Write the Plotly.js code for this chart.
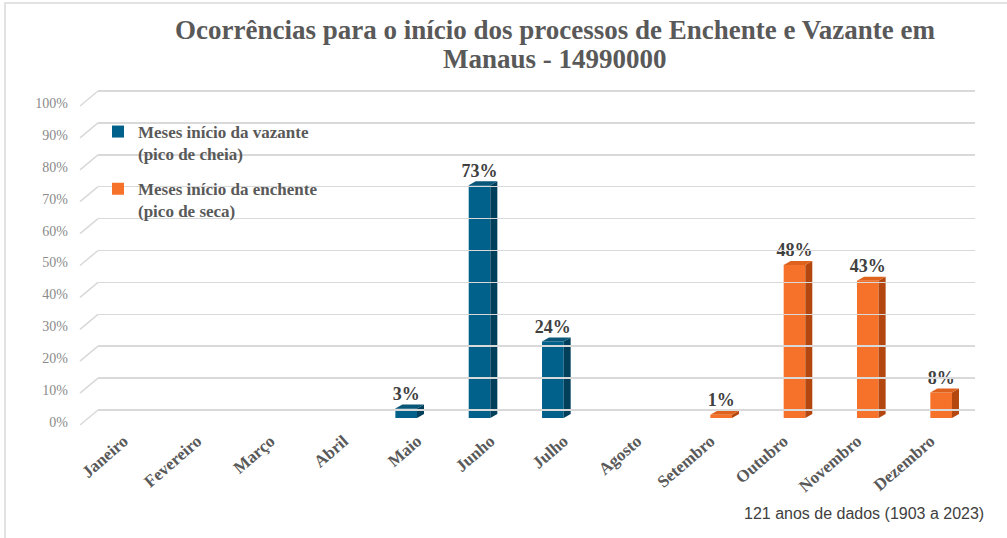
<!DOCTYPE html>
<html><head><meta charset="utf-8">
<script src="https://cdn.plot.ly/plotly-3.0.1.min.js"></script>
<style>html,body{margin:0;padding:0;background:#fff}#chart{width:1007px;height:538px}</style>
</head><body><div id="chart"></div>
<script>
// ---- data ----
const months = ['Janeiro','Fevereiro','Março','Abril','Maio','Junho','Julho','Agosto','Setembro','Outubro','Novembro','Dezembro'];
const vazante = [null,null,null,null,3,73,24,null,null,null,null,null];
const enchente = [null,null,null,null,null,null,null,null,1,48,43,8];
const yTicks = [0,10,20,30,40,50,60,70,80,90,100];
const seriesNames = ['Meses início da vazante<br>(pico de cheia)','Meses início da enchente<br>(pico de seca)'];
const titleLines = ['Ocorrências para o início dos processos de Enchente e Vazante em','Manaus - 14990000'];
const noteText = '121 anos de dados (1903 a 2023)';

// ---- geometry (pixels) ----
const W = 1007, H = 538;
const barL = 87, barR = 967, barBottom = 418, pxPerPct = 3.19;
const barTop = barBottom - 100 * pxPerPct;
const gridL = 98, gridR = 975, gridBottom = 410;
const labelShift = 4;
const depthX = 7, depthY = 4;
const w = 0.295;
const pxPerCat = (barR - barL) / 12;
const dxd = depthX / pxPerCat, dyd = depthY / pxPerPct;
const fx = p => p / W, fy = p => 1 - p / H;

const colors = {
  blue: {front:'#02618A', side:'#013F5A', top:'#0A5679'},
  orange: {front:'#F6722A', side:'#B3470F', top:'#DE621E'}
};
const idx = months.map((m,i)=>i);

function faces(vals, left) {
  const side = {x:[], y:[]}, top = {x:[], y:[]};
  vals.forEach((v,i)=>{
    if (v === null) return;
    const xl = left ? i - w : i, xr = left ? i : i + w;
    side.x.push(xr, xr, xr+dxd, xr+dxd, xr, null);
    side.y.push(0, v, v+dyd, dyd, 0, null);
    top.x.push(xl, xr, xr+dxd, xl+dxd, xl, null);
    top.y.push(v, v, v+dyd, v+dyd, v, null);
  });
  return {side, top};
}

const traces = [];
function addSeries(vals, left, c, name, group) {
  traces.push({type:'bar', x: idx, y: vals, width: w, offset: left ? -w : 0,
    marker:{color:c.front, line:{width:0}}, name: name, legendgroup: group, hoverinfo:'skip'});
  const f = faces(vals, left);
  traces.push({type:'scatter', mode:'lines', x:f.side.x, y:f.side.y, fill:'toself', fillcolor:c.side,
    line:{width:0, color:c.side}, showlegend:false, hoverinfo:'skip'});
  traces.push({type:'scatter', mode:'lines', x:f.top.x, y:f.top.y, fill:'toself', fillcolor:c.top,
    line:{width:0, color:c.top}, showlegend:false, hoverinfo:'skip'});
  const tx = [], ty = [], tt = [];
  vals.forEach((v,i)=>{ if (v!==null){ tx.push(left ? i - w/2 : i + w/2); ty.push(v + dyd); tt.push(v + '%'); }});
  traces.push({type:'scatter', mode:'text', x:tx, y:ty, text:tt, textposition:'top center',
    textfont:{family:'Liberation Serif', size:18, color:'#404040', weight:'bold'},
    showlegend:false, hoverinfo:'skip', cliponaxis:false});
}
addSeries(vazante, true, colors.blue, seriesNames[0], 'g1');
addSeries(enchente, false, colors.orange, seriesNames[1], 'g2');
traces.push({type:'scatter', x:[], y:[], xaxis:'x2', yaxis:'y2', showlegend:false, hoverinfo:'skip'});
traces.push({type:'scatter', x:[], y:[], xaxis:'x', yaxis:'y3', showlegend:false, hoverinfo:'skip'});

// grid axis: range padded so end gridlines are kept
const gMin = -1, gMax = 101;
const shapes = [];
shapes.push({type:'rect', xref:'paper', yref:'paper', x0:fx(5), x1:fx(W+10), y0:fy(3), y1:fy(H+10),
  line:{color:'#d9d9d9', width:1.5}, layer:'below'});
yTicks.forEach(v=>{
  const yy = gridBottom - v * pxPerPct;
  shapes.push({type:'line', xref:'paper', yref:'paper', x0:fx(gridL), y0:fy(yy), x1:fx(gridL-18), y1:fy(yy+15),
    line:{color:'#d9d9d9', width:1.5}, layer:'below'});
});

const titleFont = {family:'Liberation Serif', size:27, color:'#595959', weight:'bold'};
const annotations = [
  {text:titleLines[0], xref:'paper', yref:'paper', x:fx(555), y:fy(30), xanchor:'center', yanchor:'middle', showarrow:false, font:titleFont},
  {text:titleLines[1], xref:'paper', yref:'paper', x:fx(555), y:fy(59), xanchor:'center', yanchor:'middle', showarrow:false, font:titleFont},
  {text: noteText, xref:'paper', yref:'paper', x: fx(986), y: fy(513), xanchor:'right', yanchor:'middle',
    showarrow:false, font:{family:'Liberation Sans', size:16, color:'#404040'}}
];

const layout = {
  width: W, height: H,
  margin:{l:0,r:0,t:0,b:0},
  paper_bgcolor:'#ffffff', plot_bgcolor:'rgba(0,0,0,0)',
  showlegend: true,
  barmode:'overlay',
  xaxis:{domain:[fx(barL), fx(barR)], range:[-0.5, 11.5], tickvals: idx, ticktext: months,
    tickangle:-41, showgrid:false, zeroline:false, showline:false, ticks:'', ticklabelstandoff: 9,
    tickfont:{family:'Liberation Serif', size:17, color:'#595959', weight:'bold'}, anchor:'y', fixedrange:true},
  yaxis:{domain:[fy(barBottom), fy(barTop)], range:[0,100],
    showgrid:false, zeroline:false, showline:false, ticks:'', showticklabels:false, anchor:'x', fixedrange:true},
  yaxis3:{domain:[fy(barBottom + labelShift), fy(barTop + labelShift)], range:[0,100], tickvals: yTicks,
    ticktext: yTicks.map(v=>v+'%'), anchor:'free', position: fx(barL),
    showgrid:false, zeroline:false, showline:false, ticks:'', ticklabelstandoff: 19,
    tickfont:{family:'Liberation Serif', size:14, color:'#8a8a8a'}, fixedrange:true},
  xaxis2:{domain:[fx(gridL), fx(gridR)], range:[0,1], visible:true, showgrid:false, zeroline:false,
    showline:false, showticklabels:false, ticks:'', anchor:'y2'},
  yaxis2:{domain:[fy(gridBottom - gMin*pxPerPct), fy(gridBottom - gMax*pxPerPct)], range:[gMin,gMax],
    tickvals: yTicks, showgrid:true, gridcolor:'#d9d9d9', gridwidth:1.5, zeroline:false, showline:false,
    showticklabels:false, ticks:'', anchor:'x2'},
  legend:{x: fx(98), y: fy(114), xanchor:'left', yanchor:'top', bgcolor:'rgba(0,0,0,0)',
    valign:'top', traceorder:'grouped', tracegroupgap: 10,
    font:{family:'Liberation Serif', size:17, color:'#595959', weight:'bold'}},
  shapes: shapes,
  annotations: annotations
};
Plotly.newPlot('chart', traces, layout, {displayModeBar:false, staticPlot:true});
</script></body></html>
